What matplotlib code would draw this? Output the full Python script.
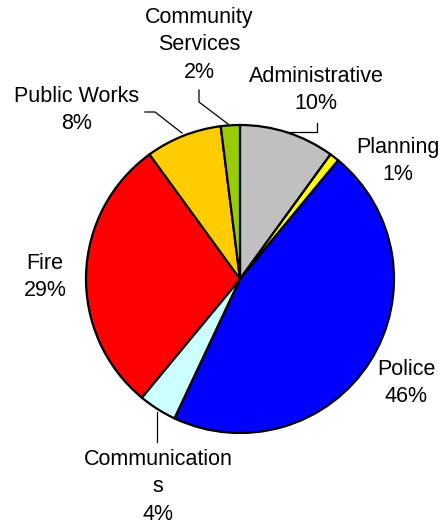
import matplotlib
matplotlib.use("Agg")
import matplotlib.pyplot as plt

categories = ["Administrative", "Planning", "Police", "Communications",
              "Fire", "Public Works", "Community Services"]
values = [10, 1, 46, 4, 29, 8, 2]
label_texts = ["Administrative\n10%", "Planning\n1%", "Police\n46%",
               "Communication\ns\n4%", "Fire\n29%", "Public Works\n8%",
               "Community\nServices\n2%"]
colors = ["#C0C0C0", "#FFFF00", "#0000FF", "#CCFFFF", "#FF0000", "#FFCC00", "#99CC00"]

W, H = 446, 525
fig = plt.figure(figsize=(W / 100, H / 100), dpi=100)
ax = fig.add_axes([0, 0, 1, 1])

def Y(y):
    return H - y

cx, cy, r = 240, 279, 154
ax.pie(values, colors=colors, startangle=90, counterclock=False,
       center=(cx, Y(cy)), radius=r, frame=True,
       wedgeprops=dict(edgecolor="black", linewidth=1.6))
ax.set_xlim(0, W)
ax.set_ylim(0, H)
ax.set_aspect("equal")
ax.axis("off")

font = dict(family=["Liberation Sans", "DejaVu Sans"], fontsize=15.5,
            ha="center", va="center", linespacing=1.4, color="#000000")
label_pos = [(316, 90), (398, 161), (406, 383), (158, 487), (45, 277), (77, 110), (199, 45)]
for t, (x, y) in zip(label_texts, label_pos):
    ax.text(x, Y(y), t, **font)

leaders = [
    [(286, 132), (317, 132), (317, 123)],
    [(157, 412), (157, 442)],
    [(145, 112), (155, 112), (182, 133)],
    [(199, 90), (199, 102), (228, 124)],
]
for pts in leaders:
    xs = [p[0] for p in pts]
    ys = [Y(p[1]) for p in pts]
    ax.plot(xs, ys, color="black", linewidth=0.9)

fig.savefig("out.png", dpi=100)
